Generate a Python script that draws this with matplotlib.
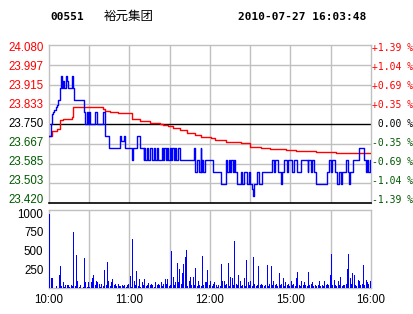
import matplotlib
matplotlib.use("Agg")
import matplotlib.pyplot as plt
import numpy as np

# ---------------- data ----------------
code = "00551"
name = "裕元集团"
stamp = "2010-07-27 16:03:48"
prev_close = 23.75
price_ticks = [24.080, 23.997, 23.915, 23.833, 23.750, 23.667, 23.585, 23.503, 23.420]
time_ticks = [0, 60, 120, 180, 240]
time_labels = ["10:00", "11:00", "12:00", "15:00", "16:00"]
vol_ticks = [250, 500, 750, 1000]

# last-trade price (step events: minute, price)
px_t = [0, 1.5, 2.2, 3, 4, 5, 6, 7, 8, 8.7, 9.5, 10.2, 11.2, 12.5, 13.2, 14, 17, 18.2, 19,
        26, 27, 28.2, 29, 29.7, 30.7, 34.4, 35.6, 40.6, 42, 44.4, 53.1, 54, 55.6, 56.8,
        61.8, 62.4, 65.6, 68, 70.5, 71, 71.8, 73, 73.8, 75.5, 76.5, 78, 79, 80.5, 81.5,
        84, 85, 86, 87, 88, 89, 90, 91, 92, 93, 94, 95, 96, 98, 108, 108.7, 110, 111.5,
        113, 113.5, 114, 115, 116, 122.4, 127.9, 132, 133, 134, 135, 136, 137, 138, 139,
        140.3, 143, 144, 145, 147.8, 149, 150, 151.5, 152.3, 153, 155.3, 156.5, 159, 166.5,
        167.5, 168.5, 171, 172.7, 174, 175.5, 177.7, 178.5, 181, 182.7, 184.5, 187.7,
        192.7, 193.3, 195, 196, 197.5, 198.9, 207, 208.8, 210, 211, 213, 215, 216, 217.5,
        218.5, 221.3, 222.5, 223.5, 224, 226.3, 231.3, 234.5, 236, 237, 238, 239, 240]
px_v = [23.70, 23.75, 23.79, 23.80, 23.81, 23.82, 23.83, 23.85, 23.90, 23.95, 23.90, 23.93, 23.90, 23.95, 23.93, 23.90, 23.95, 23.90, 23.85,
        23.80, 23.75, 23.80, 23.75, 23.80, 23.75, 23.80, 23.75, 23.80, 23.70, 23.65, 23.70, 23.68, 23.70, 23.65,
        23.60, 23.65, 23.70, 23.65, 23.60, 23.65, 23.60, 23.65, 23.60, 23.65, 23.60, 23.65, 23.60, 23.65, 23.60,
        23.65, 23.60, 23.65, 23.60, 23.65, 23.60, 23.65, 23.60, 23.65, 23.60, 23.65, 23.60, 23.65, 23.60, 23.65, 23.55, 23.60, 23.55,
        23.65, 23.55, 23.60, 23.55, 23.60, 23.55, 23.50, 23.60, 23.55, 23.60, 23.55, 23.60, 23.55, 23.60, 23.55,
        23.50, 23.55, 23.50, 23.55, 23.50, 23.55, 23.50, 23.48, 23.45, 23.50, 23.55, 23.50, 23.55, 23.60,
        23.55, 23.60, 23.55, 23.50, 23.55, 23.60, 23.55, 23.60, 23.55, 23.60, 23.55, 23.60,
        23.55, 23.60, 23.55, 23.60, 23.55, 23.50, 23.55, 23.60, 23.55, 23.60, 23.55, 23.50, 23.55, 23.50,
        23.55, 23.60, 23.55, 23.50, 23.55, 23.60, 23.65, 23.60, 23.55, 23.60, 23.55, 23.60, 23.60]

# average price line
avg_t = [0, 2, 6, 8.2, 10.5, 17, 18, 33, 40, 42, 45.6, 51.6, 60.6, 62, 68, 75.5, 83, 85, 89,
         92.7, 98, 103, 109, 113, 120.4, 124, 131.6, 143, 150, 157.8, 165, 176.5, 184, 199, 214, 225, 240]
avg_v = [23.70, 23.72, 23.73, 23.765, 23.77, 23.78, 23.82, 23.82, 23.813, 23.805, 23.80, 23.797, 23.795, 23.77, 23.762, 23.755,
         23.75, 23.745, 23.74, 23.733, 23.725, 23.712, 23.703, 23.695, 23.69, 23.683, 23.676, 23.669, 23.655, 23.65,
         23.644, 23.64, 23.636, 23.634, 23.63, 23.628, 23.628]

# per-minute volume
volume = [990, 140, 130, 0, 0, 30, 0, 175, 290, 30, 85, 20, 40, 40, 40, 20, 40, 30, 750, 30,
          440, 100, 20, 40, 0, 20, 400, 80, 20, 80, 20, 80, 130, 175, 40, 100, 80, 60, 20, 60,
          30, 240, 40, 350, 100, 30, 80, 120, 40, 60, 30, 50, 30, 30, 40, 30, 40, 20, 40, 60,
          160, 20, 650, 100, 40, 225, 30, 120, 20, 80, 40, 120, 30, 40, 70, 40, 60, 40, 20, 75,
          40, 60, 40, 80, 30, 60, 120, 60, 120, 30, 40, 500, 150, 40, 80, 340, 80, 250, 60, 200,
          320, 420, 510, 30, 100, 150, 40, 150, 40, 270, 30, 100, 40, 30, 430, 40, 80, 80, 240, 40,
          100, 30, 60, 80, 40, 20, 40, 30, 320, 100, 90, 40, 60, 330, 30, 150, 140, 40, 630, 50,
          40, 170, 100, 30, 40, 140, 30, 380, 80, 40, 100, 30, 420, 60, 30, 40, 300, 40, 50, 40,
          30, 40, 310, 30, 60, 300, 40, 100, 40, 60, 30, 200, 40, 60, 140, 30, 80, 40, 60, 30,
          100, 40, 60, 30, 140, 210, 40, 30, 100, 40, 80, 40, 30, 210, 40, 60, 80, 30, 40, 30,
          40, 100, 30, 40, 30, 100, 40, 60, 40, 180, 450, 40, 110, 40, 30, 100, 40, 150, 30, 40,
          40, 60, 250, 460, 140, 60, 200, 180, 40, 30, 110, 100, 40, 60, 310, 40, 110, 80, 60, 100]

# ---------------- figure ----------------
W, H = 414, 314
fig = plt.figure(figsize=(W / 100, H / 100), dpi=100)
fig.patch.set_facecolor("white")

RED = "#ff0000"
GREEN = "#005a00"
GRID = "#c0c0c0"
BLUE = "#0000ff"

def rect(l, t, r, b):
    return [l / W, 1 - b / H, (r - l) / W, (b - t) / H]

ax = fig.add_axes(rect(49, 45, 371, 203))
axv = fig.add_axes(rect(49, 210, 371, 288))

# price panel
ax.set_xlim(0, 240)
ax.set_ylim(price_ticks[-1], price_ticks[0])
for t in [30, 60, 90, 120, 150, 180, 210]:
    ax.axvline(t, color=GRID, lw=1.0, zorder=1)
for p in price_ticks[1:-1]:
    if abs(p - prev_close) < 1e-6:
        ax.axhline(p, color="black", lw=1.0, zorder=2)
    else:
        ax.axhline(p, color=GRID, lw=1.0, zorder=1)
for s in ["left", "top", "right"]:
    ax.spines[s].set_color(GRID)
    ax.spines[s].set_linewidth(1.0)
ax.spines["bottom"].set_color("black")
ax.spines["bottom"].set_linewidth(1.2)

ax.step(avg_t, avg_v, where="post", color=RED, lw=1.0, zorder=3)
ax.step(px_t, px_v, where="post", color=BLUE, lw=1.0, zorder=4)

ax.set_xticks([])
ax.set_yticks([])

n = len(price_ticks)
for i, p in enumerate(price_ticks):
    off = (-3 + 6 * i / (n - 1)) * 0.72  # top label sits a bit below its line, bottom a bit above
    if abs(p - prev_close) < 1e-6:
        c = "black"
    elif p > prev_close:
        c = RED
    else:
        c = GREEN
    ax.annotate(f"{p:.3f}", xy=(0, p), xycoords=("axes fraction", "data"), xytext=(-4, off),
                textcoords="offset points", ha="right", va="center", color=c,
                family="Liberation Sans", fontsize=8.3)
    pct = (p - prev_close) / prev_close * 100
    if abs(pct) < 0.005:
        txt = " 0.00 %"
    elif pct > 0:
        txt = f"+{pct:.2f} %"
    else:
        txt = f"-{abs(pct):.2f} %"
    ax.annotate(txt, xy=(1, p), xycoords=("axes fraction", "data"), xytext=(0.5, off),
                textcoords="offset points", ha="left", va="center", color=c,
                family="DejaVu Sans Mono", fontsize=7.0)

# volume panel
axv.set_xlim(0, 240)
axv.set_ylim(0, 1040)
for t in [30, 60, 90, 120, 150, 180, 210]:
    axv.axvline(t, color=GRID, lw=1.0, zorder=1)
for s in axv.spines.values():
    s.set_color(GRID)
    s.set_linewidth(1.0)
axv.bar(np.arange(len(volume)) + 0.5, volume, width=0.75, color=BLUE, zorder=3, linewidth=0)
axv.set_yticks(vol_ticks)
axv.set_yticklabels([str(v) for v in vol_ticks], family="Liberation Sans", fontsize=8.3)
axv.tick_params(axis="y", length=0, pad=4)
axv.set_xticks(time_ticks)
axv.set_xticklabels(time_labels, family="Liberation Sans", fontsize=8.3)
axv.tick_params(axis="x", length=0, pad=4)

# title
fig.text(50 / W, 1 - 17 / H, code, family="DejaVu Sans Mono", weight="bold", fontsize=8, va="center", ha="left")
fig.text(104 / W, 1 - 16 / H, name, family=["Noto Sans CJK SC", "DejaVu Sans"], fontsize=9, va="center", ha="left")
fig.text(238 / W, 1 - 17 / H, stamp, family="DejaVu Sans Mono", weight="bold", fontsize=8, va="center", ha="left")

fig.savefig("out.png", dpi=100, facecolor="white")
